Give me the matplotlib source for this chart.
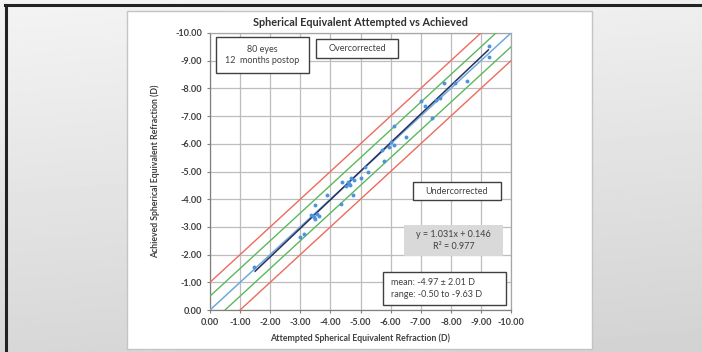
import numpy as np
import matplotlib
matplotlib.use("Agg")
import matplotlib.pyplot as plt
from matplotlib.patches import Rectangle
from matplotlib.lines import Line2D

plt.rcParams['font.family'] = ['Lato', 'DejaVu Sans']

# ---- data (diopters) ----
attempted = [-1.47, -3.00, -3.13, -3.37, -3.45, -3.55, -3.63, -3.50, -3.50, -3.89,
             -4.36, -4.39, -4.53, -4.58, -4.65, -4.70, -4.77, -4.76, -5.00, -5.14,
             -5.24, -5.72, -5.77, -5.94, -6.00, -6.10, -6.11, -6.50, -7.00, -7.13,
             -7.39, -7.50, -7.64, -7.76, -8.14, -8.53, -9.26, -9.26, -3.42, -4.62]
achieved = [-1.55, -2.65, -2.74, -3.43, -3.36, -3.46, -3.40, -3.79, -3.30, -4.15,
            -3.83, -4.63, -4.47, -4.62, -4.50, -4.76, -4.68, -4.15, -4.76, -5.16,
            -5.00, -5.78, -5.39, -5.90, -6.08, -5.95, -6.64, -6.26, -7.54, -7.36,
            -6.93, -7.58, -7.66, -8.19, -8.19, -8.27, -9.54, -9.15, -3.40, -4.55]
fit_slope = 1.031
fit_intercept = 0.146
fit_range = [-1.5, -9.25]
band_offsets_green = [0.5, -0.5]
band_offsets_red = [1.0, -1.0]
ticks = [0, -1, -2, -3, -4, -5, -6, -7, -8, -9, -10]

W, H = 702, 352
fig = plt.figure(figsize=(W / 100, H / 100), dpi=100)

# slide background gradient
bg = fig.add_axes([0, 0, 1, 1], zorder=-10)
gy = np.linspace(0, 1, 200)[:, None]
gx = np.linspace(0, 1, 200)[None, :]
grad = 0.955 - 0.11 * gy - 0.02 * gx
bg.imshow(grad, cmap='gray', vmin=0, vmax=1, aspect='auto', extent=[0, 1, 0, 1], origin='upper')
bg.set_xlim(0, 1); bg.set_ylim(0, 1); bg.axis('off')

def fx(px):
    return px / W

def fy(py):
    return 1 - py / H

# black slide border
bg.add_line(Line2D([fx(5), 1], [fy(5), fy(5)], color='#222222', lw=2.2))
bg.add_line(Line2D([fx(6), fx(6)], [fy(5), 0], color='#222222', lw=2.2))
# white chart panel
bg.add_patch(Rectangle((fx(127), fy(349)), fx(592) - fx(127), fy(11) - fy(349),
                       facecolor='white', edgecolor='#c4c4c4', lw=1.0, zorder=5))

ax = fig.add_axes([fx(210), fy(310), fx(511) - fx(210), fy(33) - fy(310)])
ax.set_xlim(0, -10)
ax.set_ylim(0, -10)
ax.set_xticks(ticks)
ax.set_yticks(ticks)
fmt = lambda v: f"{abs(v):.2f}" if v == 0 else f"{v:.2f}"
ax.set_xticklabels([fmt(t) for t in ticks])
ax.set_yticklabels([fmt(t) for t in ticks])
ax.tick_params(length=2.5, width=0.8, color='#808080', direction='out', pad=3,
               labelsize=6.6, labelcolor='#404040')
for lab in ax.get_xticklabels() + ax.get_yticklabels():
    lab.set_fontweight('bold')
ax.grid(True, color='#bdbdbd', lw=0.9)
ax.set_axisbelow(True)
for s in ax.spines.values():
    s.set_color('#a6a6a6')
    s.set_linewidth(0.9)
ax.spines['left'].set_color('#808080')
ax.spines['bottom'].set_color('#808080')

xs = np.array([0.0, -10.0])
ax.plot(xs, xs, color='#6fa8dc', lw=1.1, zorder=3)
for off in band_offsets_green:
    ax.plot(xs, xs + off, color='#5cb85c', lw=1.0, zorder=3)
for off in band_offsets_red:
    ax.plot(xs, xs + off, color='#ec6b5e', lw=1.0, zorder=3)
fx_ = np.array(fit_range)
ax.plot(fx_, fit_slope * fx_ + fit_intercept, color='#27315a', lw=1.1, zorder=4)
ax.scatter(attempted, achieved, s=8, color='#4f93dc', zorder=5, linewidths=0)

ax.set_title('Spherical Equivalent Attempted vs Achieved', fontsize=7.8, fontweight='bold',
             color='#303030', pad=5)
ax.set_xlabel('Attempted Spherical Equivalent Refraction (D)', fontsize=6.3, fontweight='bold',
              color='#404040', labelpad=5)
ax.set_ylabel('Achieved Spherical Equivalent Refraction (D)', fontsize=6.3, fontweight='bold',
              color='#404040', labelpad=11)

def ax_x(px):
    return (px - 210) / 301

def ax_y(py):
    return (310 - py) / 277

def box(x0, x1, y0, y1, fc='white', ec='#404040'):
    ax.add_patch(Rectangle((ax_x(x0), ax_y(y1)), ax_x(x1) - ax_x(x0), ax_y(y0) - ax_y(y1),
                           transform=ax.transAxes, facecolor=fc, edgecolor=ec, lw=1.0,
                           zorder=6, clip_on=False))

tkw = dict(transform=ax.transAxes, fontsize=6.5, color='#404040', zorder=7, va='center')
box(216, 309, 37, 73)
ax.text(ax_x(262.5), ax_y(55), '80 eyes\n12  months postop', ha='center', linespacing=1.3, **tkw)
box(316, 398, 39, 58)
ax.text(ax_x(357), ax_y(48.5), 'Overcorrected', ha='center', **tkw)
box(413, 501, 182, 200)
ax.text(ax_x(457), ax_y(191), 'Undercorrected', ha='center', **tkw)
box(404, 503, 225, 256, fc='#d9d9d9', ec='none')
ax.text(ax_x(453.5), ax_y(240.5), f'y = {fit_slope:.3f}x + {fit_intercept:.3f}\nR² = 0.977',
        ha='center', linespacing=1.3, **tkw)
box(383, 506, 272, 305)
ax.text(ax_x(391), ax_y(288.5), 'mean: -4.97 ± 2.01 D\nrange: -0.50 to -9.63 D',
        ha='left', linespacing=1.3, **tkw)

fig.savefig('out.png', dpi=100)
